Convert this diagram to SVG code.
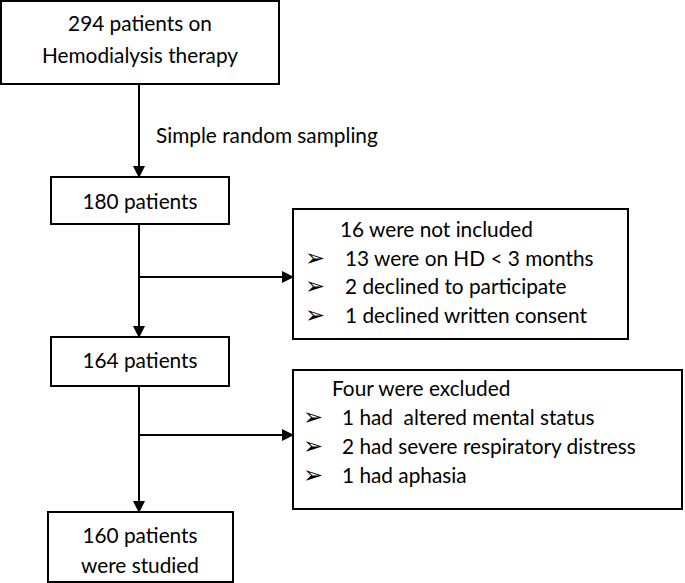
<svg xmlns="http://www.w3.org/2000/svg" width="685" height="583" viewBox="0 0 685 583">
<style>
.box{fill:#fff;stroke:#000;stroke-width:2}
.t{font-family:Lato,"Liberation Sans",sans-serif;font-size:20.8px;fill:#000}
.c{text-anchor:middle}
.b{font-family:"DejaVu Sans",sans-serif;font-size:24px;fill:#000}
.ln{stroke:#000;stroke-width:2;fill:none}
</style>
<defs>
<marker id="ah" markerWidth="12" markerHeight="12" refX="11" refY="6" orient="auto" markerUnits="userSpaceOnUse">
<path d="M0,0 L12,6 L0,12 Z" fill="#000"/>
</marker>
</defs>
<rect width="685" height="583" fill="#fff"/>
<g id="connectors">
<line class="ln" x1="139" y1="85" x2="139" y2="177" marker-end="url(#ah)"/>
<line class="ln" x1="139" y1="224" x2="139" y2="337" marker-end="url(#ah)"/>
<line class="ln" x1="139" y1="277" x2="293" y2="277" marker-end="url(#ah)"/>
<line class="ln" x1="139" y1="386" x2="139" y2="512" marker-end="url(#ah)"/>
<line class="ln" x1="139" y1="435" x2="293" y2="435" marker-end="url(#ah)"/>
<text class="t" x="156" y="143">Simple random sampling</text>
</g>
<g id="n1">
<rect class="box" x="1" y="1" width="278" height="83"/>
<text class="t c" x="140" y="31">294 patients on</text>
<text class="t c" x="140" y="63">Hemodialysis therapy</text>
</g>
<g id="n2">
<rect class="box" x="51" y="177" width="178" height="47"/>
<text class="t c" x="140" y="209">180 patients</text>
</g>
<g id="n3">
<rect class="box" x="293" y="209" width="335" height="130"/>
<text class="t" x="340" y="237">16 were not included</text>
<text class="b" x="305" y="266">➢</text><text class="t" x="345" y="266">13 were on HD &lt; 3 months</text>
<text class="b" x="305" y="294">➢</text><text class="t" x="345" y="294">2 declined to participate</text>
<text class="b" x="305" y="323">➢</text><text class="t" x="345" y="323">1 declined written consent</text>
</g>
<g id="n4">
<rect class="box" x="51" y="337" width="178" height="49"/>
<text class="t c" x="140" y="368">164 patients</text>
</g>
<g id="n5">
<rect class="box" x="293" y="370" width="389" height="139"/>
<text class="t" x="332" y="396">Four were excluded</text>
<text class="b" x="303" y="425">➢</text><text class="t" x="342" y="425" xml:space="preserve">1 had  altered mental status</text>
<text class="b" x="303" y="454">➢</text><text class="t" x="342" y="454">2 had severe respiratory distress</text>
<text class="b" x="303" y="483">➢</text><text class="t" x="342" y="483">1 had aphasia</text>
</g>
<g id="n6">
<rect class="box" x="48" y="512" width="185" height="70"/>
<text class="t c" x="140" y="543">160 patients</text>
<text class="t c" x="140" y="573">were studied</text>
</g>
</svg>
